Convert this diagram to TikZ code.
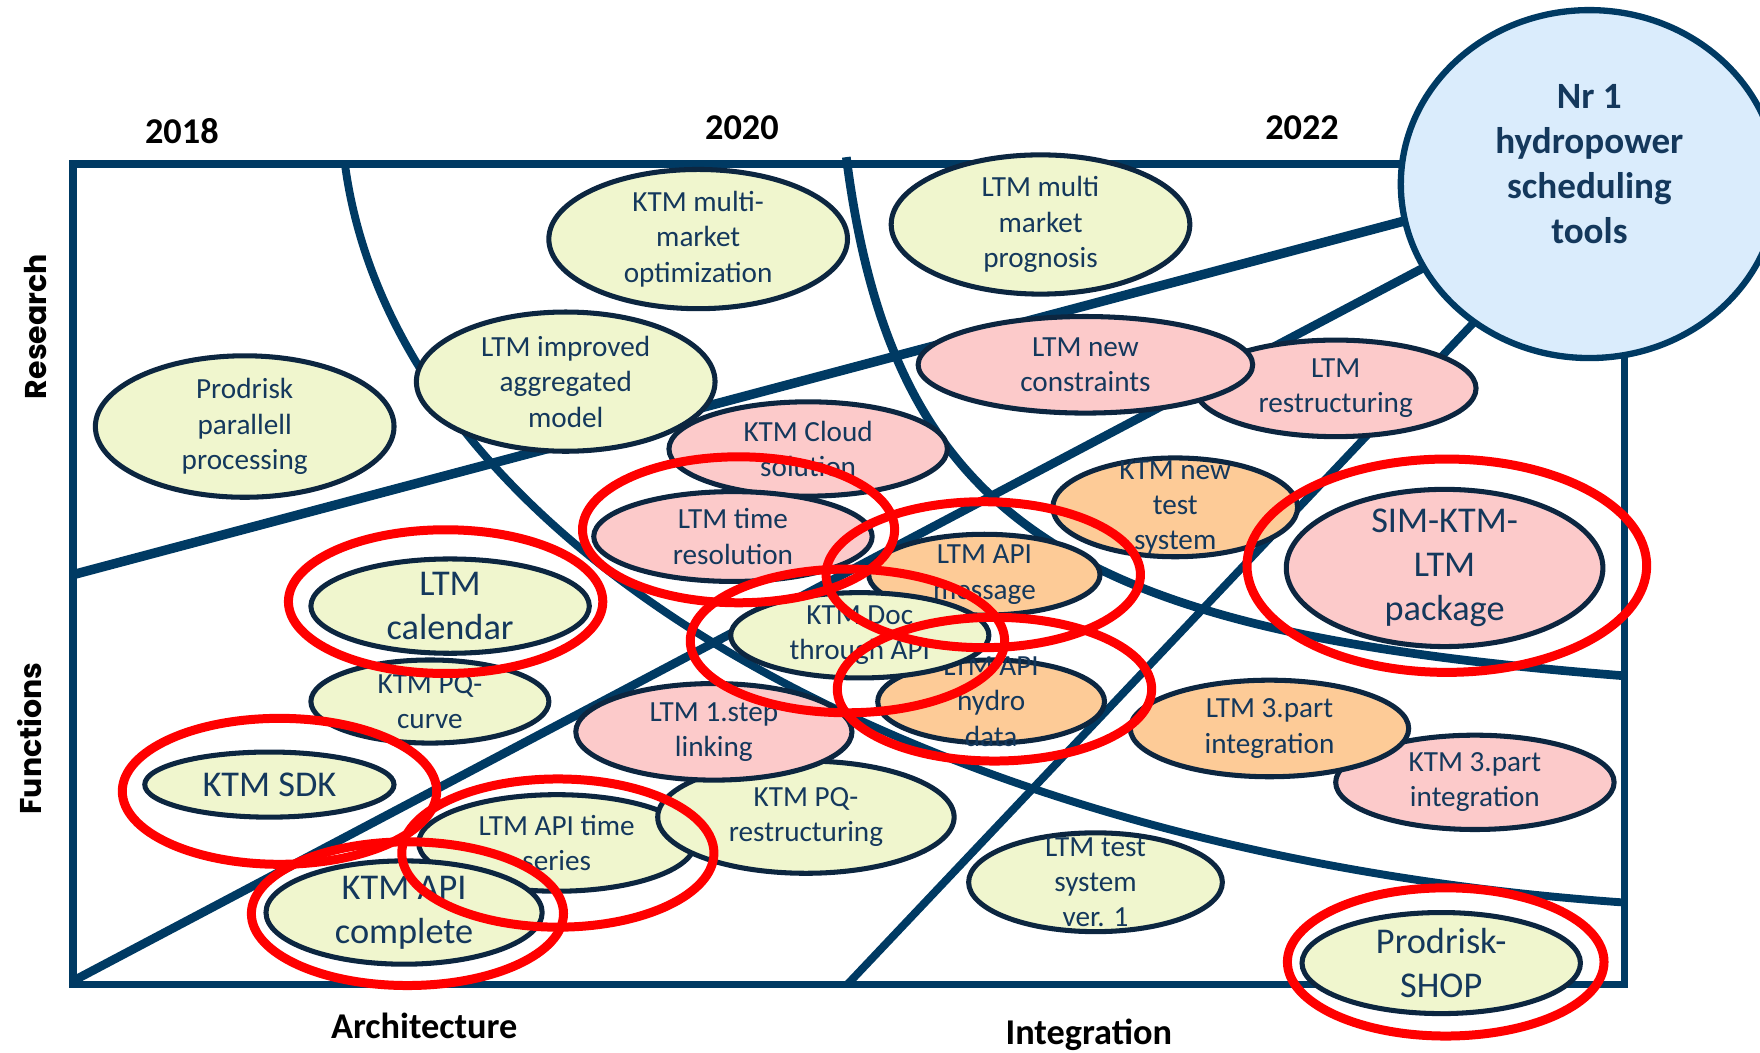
\documentclass[tikz,border=0pt]{standalone}
\usepackage{fontspec}
\setmainfont{Carlito}
\newfontfamily\popfont{Poppins}
\usetikzlibrary{shapes.geometric}
\definecolor{navy}{HTML}{003A63}
\definecolor{edgec}{HTML}{0C2640}
\definecolor{txtc}{HTML}{14385C}
\definecolor{gfill}{HTML}{F0F6CE}
\definecolor{pfill}{HTML}{FCCACA}
\definecolor{ofill}{HTML}{FDCB97}
\definecolor{bfill}{HTML}{DAECFC}
\newcommand\bubl[8]{%
  \node[bubble, fill=#6, minimum width=#4*0.05cm, minimum height=#5*0.05cm] (#1) at (#2,#3) {};
  \node[#7] (#1-t) at (#1.center) {#8};}
\newcommand\redring[5]{%
  \node[redell, minimum width=#4*0.05cm, minimum height=#5*0.05cm] (#1) at (#2,#3) {};}
\begin{document}
\begin{tikzpicture}[x=0.025cm, y=-0.025cm,
  bubble/.style={ellipse, draw=edgec, line width=3.2pt, inner sep=0pt},
  redell/.style={ellipse, draw=red, line width=5.7pt, inner sep=0pt},
  small/.style={align=center, text=txtc, inner sep=0pt, font=\fontsize{18.5}{22.4}\selectfont},
  large/.style={align=center, text=txtc, inner sep=0pt, font=\fontsize{23}{28}\selectfont},
  year/.style={font=\bfseries\fontsize{23}{28}\selectfont, text=black, inner sep=0pt},
  axislab/.style={font=\popfont\bfseries\fontsize{19}{23}\selectfont, text=black, rotate=90, inner sep=0pt},
  band/.style={draw=navy, line width=5.5pt},
]
\clip (0,0) rectangle (1568,938);
\useasboundingbox (0,0) rectangle (1568,938);

% frame
\draw[band, line width=4.6pt] (65,146) rectangle (1447,877);
% arcs
\draw[band, line width=5pt] (307,144) .. controls (353,501) and (846,762) .. (1446,804);
\draw[band, line width=5.5pt] (754,140) .. controls (797,476) and (966,564) .. (1446,602);
% diagonals towards the goal
\coordinate (d1s) at (65,512);   \coordinate (d1e) at (1262,194);
\coordinate (d2s) at (65,874);   \coordinate (d2e) at (1275,235);
\coordinate (d3s) at (755,877);  \coordinate (d3e) at (1320,280);
\draw[band, line width=6pt] (d1s) -- (d1e);
\draw[band, line width=5.5pt] (d2s) -- (d2e);
\draw[band, line width=5pt] (d3s) -- (d3e);

% bubbles
\bubl{ktmMulti}{622}{213}{133}{62}{gfill}{small}{KTM multi-\\market\\optimization}
\bubl{ltmMulti}{927}{200}{133}{62}{gfill}{small}{LTM multi\\market\\prognosis}
\bubl{prodPar}{218}{380}{133}{63}{gfill}{small}{Prodrisk\\parallell\\processing}
\bubl{ltmImp}{504}{340}{133}{62}{gfill}{small}{LTM improved\\aggregated\\model}
\bubl{ktmCloud}{720}{400}{124}{42}{pfill}{small}{KTM Cloud\\solution}
\bubl{ltmRestr}{1190}{346}{125}{43}{pfill}{small}{LTM\\restructuring}
\bubl{ltmCons}{967}{325}{149}{43}{pfill}{small}{LTM new\\constraints}
\bubl{ktmTest}{1047}{452}{109}{44}{ofill}{small}{KTM new\\test\\system}
\bubl{ltmTime}{653}{478}{124}{40}{pfill}{small}{LTM time\\resolution}
\bubl{ltmMsg}{877}{512}{103}{36}{ofill}{small}{LTM API\\message}
\bubl{ltmHydro}{883}{625}{101}{37}{ofill}{small}{LTM API\\hydro\\data}
\bubl{ktmDoc}{766}{566}{115}{38}{gfill}{small}{KTM Doc\\through API}
\bubl{simPkg}{1287}{506}{141}{70}{pfill}{large}{SIM-KTM-\\LTM\\package}
\bubl{pqCurve}{383}{625}{106}{37}{gfill}{small}{KTM PQ-\\curve}
\bubl{ltmCal}{401}{540}{124}{42}{gfill}{large}{LTM\\calendar}
\bubl{ktmThree}{1314}{697}{124}{42}{pfill}{small}{KTM 3.part\\integration}
\bubl{ltmThree}{1131}{649}{124}{43}{ofill}{small}{LTM 3.part\\integration}
\bubl{ltmSeries}{496}{751}{123}{43}{gfill}{small}{LTM API time\\series}
\bubl{pqRestr}{718}{728}{132}{50}{gfill}{small}{KTM PQ-\\restructuring}
\bubl{ltmStep}{636}{652}{123}{43}{pfill}{small}{LTM 1.step\\linking}
\bubl{ktmSdk}{240}{699}{111}{29}{gfill}{large}{KTM SDK}
\bubl{ktmApi}{360}{813}{123}{46}{gfill}{large}{KTM API\\complete}
\bubl{ltmTestSys}{976}{786}{113}{44}{gfill}{small}{LTM test\\system\\ver. 1}
\bubl{shop}{1284}{858}{124}{45}{gfill}{large}{Prodrisk-\\SHOP}

% red rings
\redring{rTime}{658}{472}{139}{65}
\redring{rMsg}{876}{512}{140}{65}
\redring{rDoc}{755}{571}{140}{64}
\redring{rHydro}{886}{614}{140}{64}
\redring{rCal}{397}{536}{140}{64}
\redring{rSdk}{249}{705}{140}{65}
\redring{rSeries}{497}{760}{139}{66}
\redring{rApi}{363}{814}{139}{64}
\redring{rSim}{1289}{504}{178}{95}
\redring{rShop}{1288}{857}{141}{66}

% goal
\node[ellipse, draw=navy, fill=bfill, line width=4pt, inner sep=0pt,
      minimum width=336*0.025cm, minimum height=310*0.025cm] (hub) at (1416,164) {};
\node[align=center, text=txtc, inner sep=0pt, font=\bfseries\fontsize{23.5}{28.4}\selectfont]
      (hub-t) at (1416,146) {Nr 1\\hydropower\\scheduling\\tools};

% labels
\node[year] (y2018) at (162,117) {2018};
\node[year] (y2020) at (661,114) {2020};
\node[year] (y2022) at (1160,114) {2022};
\node[year] (arch) at (378,914) {Architecture};
\node[year] (integ) at (970,922) {Integration};
\node[axislab] (research) at (32,291) {Research};
\node[axislab] (functions) at (26,658) {Functions};
\end{tikzpicture}
\end{document}
